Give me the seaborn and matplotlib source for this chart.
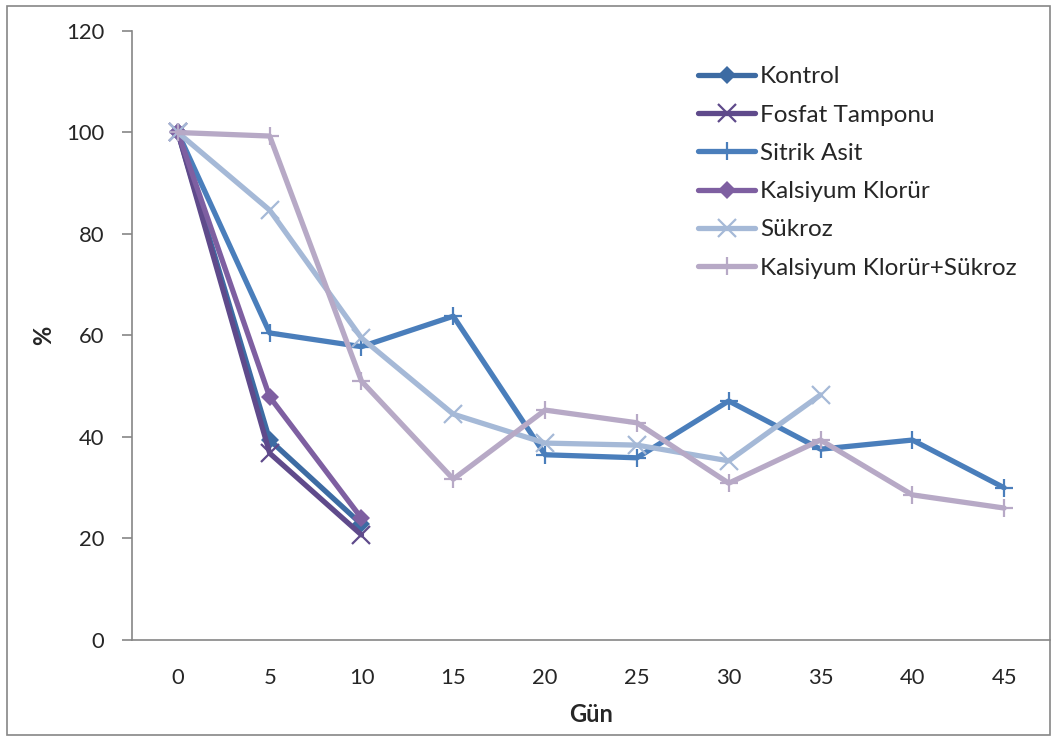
import matplotlib
matplotlib.use("Agg")
import matplotlib.pyplot as plt
import seaborn as sns
import pandas as pd
from matplotlib.patches import Rectangle

days = [0, 5, 10, 15, 20, 25, 30, 35, 40, 45]

kontrol = [100, 39.4, 22.8]
fosfat = [100, 36.8, 20.7]
sitrik = [100, 60.5, 57.8, 63.8, 36.5, 35.9, 47.1, 37.6, 39.4, 30.0]
kalsiyum = [100, 47.9, 24.0]
sukroz = [100, 84.7, 59.5, 44.5, 38.8, 38.4, 35.3, 48.3]
kk_sukroz = [100, 99.3, 51.0, 31.7, 45.3, 42.8, 30.9, 39.4, 28.6, 26.0]

names = ["Kontrol", "Fosfat Tamponu", "Sitrik Asit", "Kalsiyum Klorür", "Sükroz", "Kalsiyum Klorür+Sükroz"]
series = [kontrol, fosfat, sitrik, kalsiyum, sukroz, kk_sukroz]
colors = ["#3D6BA3", "#5F4A8B", "#4A7EBB", "#7E5FA1", "#A5B9D7", "#B7A9C6"]
markers = ["D", "x", "+", "D", "x", "+"]

sns.set_style("white")
plt.rcParams['font.family'] = ['Lato', 'DejaVu Sans']

fig = plt.figure(figsize=(10.55, 7.38), dpi=100)
ax = fig.add_axes([0.1251, 0.1328, 0.8702, 0.8252])

for name, vals, c, m in zip(names, series, colors, markers):
    df = pd.DataFrame({"x": days[:len(vals)], "y": vals})
    if m == "D":
        kw = dict(markersize=9, markeredgewidth=0, markerfacecolor=c)
    else:
        kw = dict(markersize=13, markeredgewidth=1.6, markeredgecolor=c)
    sns.lineplot(data=df, x="x", y="y", ax=ax, color=c, linewidth=3.8,
                 marker=m, label=name, **kw)

ax.set_xlim(-2.5, 47.5)
ax.set_ylim(0, 120)
ax.set_yticks([0, 20, 40, 60, 80, 100, 120])
ax.set_xticks(days)
ax.set_xticklabels([str(d) for d in days])
for s in ["top", "right"]:
    ax.spines[s].set_visible(False)
for s in ["left", "bottom"]:
    ax.spines[s].set_color("#868686")
    ax.spines[s].set_linewidth(1.2)
ax.tick_params(axis="y", which="both", left=True, length=7, width=1.2, color="#868686",
               labelsize=15.8, pad=13)
ax.tick_params(axis="x", bottom=False, labelsize=15.8, pad=17)
ax.set_xlabel("Gün", fontsize=17, fontweight="bold")
ax.set_ylabel("%", fontsize=17, fontweight="bold")
ax.xaxis.set_label_coords(0.5, -0.123)
ax.xaxis.label.set_va("center")
ax.yaxis.set_label_coords(-0.096, 0.5)
ax.yaxis.label.set_va("center")

leg = ax.legend(loc="upper left", bbox_to_anchor=(0.6166, 0.942), frameon=False,
                fontsize=17.5, handlelength=2.35, handletextpad=0.2, labelspacing=0.71,
                borderaxespad=0, borderpad=0)

fig.patches.append(Rectangle((0.007, 0.004), 0.988, 0.988, transform=fig.transFigure,
                             fill=False, edgecolor="#868686", linewidth=1.2))

fig.savefig("out.png", dpi=100)
